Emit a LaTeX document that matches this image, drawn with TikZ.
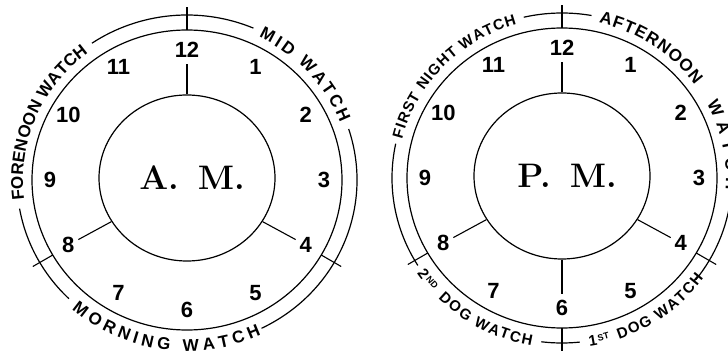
\documentclass[tikz,border=0pt]{standalone}
\usepackage{fontspec}
\newfontfamily\handfont{Liberation Sans}
\usetikzlibrary{decorations.text,shapes.geometric}
\newcommand\watchfont{\handfont\bfseries\fontsize{15}{15}\selectfont}
\newcommand\bigwatchfont{\handfont\bfseries\fontsize{17}{17}\selectfont}
\newcommand\hiwatchfont{\handfont\bfseries\fontsize{9}{9}\selectfont}
\newcommand\hourfont{\handfont\bfseries\fontsize{22}{22}\selectfont}

\begin{document}
\begin{tikzpicture}[x=1pt,y=1pt,
  ring/.style={line width=1.2},
  spoke/.style={line width=1.1},
  hour/.style={font=\hourfont,inner sep=1},
  disc/.style={draw,ellipse,line width=1.2,minimum width=176,minimum height=166,
    font=\bfseries\fontsize{34}{34}\selectfont},
  watch/.style={decorate,decoration={text along path,text align={fit to path},raise=-5.3pt}},
  bigwatch/.style={decorate,decoration={text along path,text align={fit to path},raise=-6pt}},
  watchbit/.style={decorate,decoration={text along path,text align=left,raise=#1}}]
  \fill[white] (0,0) rectangle (728,351);
  \useasboundingbox (0,0) rectangle (728,351);

  % morning
  \begin{scope}[shift={(187,171)}]
    \draw[ring] (0,0) ellipse (155 and 150);
    \foreach \a/\b in {124/67,18/-64,226/190}
      \draw[ring] (\a:170 and 165) arc[start angle=\a,end angle=\b,x radius=170,y radius=165];
    \foreach \a in {90,210,-30}
      \draw[spoke] (\a:155 and 150) -- (\a:178 and 173);
    \path[bigwatch,decoration={text={|\bigwatchfont|MID WATCH}}]
      (64:170 and 165) arc[start angle=64,end angle=21,x radius=170,y radius=165];
    \path[bigwatch,decoration={text={|\bigwatchfont|FORENOON WATCH}}]
      (187:170 and 165) arc[start angle=187,end angle=127,x radius=170,y radius=165];
    \path[bigwatch,decoration={text={|\bigwatchfont|MORNING WATCH}}]
      (229:170 and 165) arc[start angle=229,end angle=295,x radius=170,y radius=165];
    \foreach \h in {1,...,12}
      \node[hour] (am\h) at ({90-30*\h}:137 and 130) {\h};
    \node[disc] (amdisc) at (0,2) {\raisebox{-4pt}{\hspace{10pt}A.\hspace{19pt}M.}};
    \draw[spoke,shorten >=5] (amdisc.north) -- (am12);
    \draw[spoke,shorten >=3] (amdisc.210) -- (am8);
    \draw[spoke,shorten >=3] (amdisc.-30) -- (am4);
  \end{scope}

  % evening
  \begin{scope}[shift={(562,173)}]
    \draw[ring] (0,0) ellipse (155 and 150);
    \foreach \a/\b in {103/80,-7/-38,-84/-97,212/168}
      \draw[ring] (\a:170 and 165) arc[start angle=\a,end angle=\b,x radius=170,y radius=165];
    \foreach \a in {90,210,-30,-90}
      \draw[spoke] (\a:155 and 150) -- (\a:178 and 173);
    \path[watch,decoration={text={|\watchfont|FIRST NIGHT WATCH}}]
      (166:170 and 165) arc[start angle=166,end angle=106,x radius=170,y radius=165];
    \path[bigwatch,decoration={text={|\bigwatchfont|AFTERNOON}}]
      (77:170 and 165) arc[start angle=77,end angle=36,x radius=170,y radius=165];
    \path[bigwatch,decoration={text={|\bigwatchfont|WATCH}}]
      (28:170 and 165) arc[start angle=28,end angle=-4,x radius=170,y radius=165];
    % dog watches, with raised ordinals
    \path[watchbit=-5.3pt,decoration={text={|\watchfont|2}}]
      (214:170 and 165) arc[start angle=214,end angle=222,x radius=170,y radius=165];
    \path[watchbit=-2pt,decoration={text={|\hiwatchfont|ND}}]
      (217.5:170 and 165) arc[start angle=217.5,end angle=228,x radius=170,y radius=165];
    \path[watch,decoration={text={|\watchfont|DOG WATCH}}]
      (225:170 and 165) arc[start angle=225,end angle=260,x radius=170,y radius=165];
    \path[watchbit=-5.3pt,decoration={text={|\watchfont|1}}]
      (279:170 and 165) arc[start angle=279,end angle=287,x radius=170,y radius=165];
    \path[watchbit=-2pt,decoration={text={|\hiwatchfont|ST}}]
      (282.2:170 and 165) arc[start angle=282.2,end angle=292,x radius=170,y radius=165];
    \path[watch,decoration={text={|\watchfont|DOG WATCH}}]
      (289:170 and 165) arc[start angle=289,end angle=324,x radius=170,y radius=165];
    \foreach \h in {1,...,12}
      \node[hour] (pm\h) at ({90-30*\h}:137 and 130) {\h};
    \node[disc] (pmdisc) at (0,2) {\raisebox{-4pt}{\hspace{10pt}P.\hspace{19pt}M.}};
    \draw[spoke,shorten >=5] (pmdisc.north) -- (pm12);
    \draw[spoke,shorten >=3] (pmdisc.210) -- (pm8);
    \draw[spoke,shorten >=3] (pmdisc.-30) -- (pm4);
    \draw[spoke,shorten >=5] (pmdisc.south) -- (pm6);
  \end{scope}
\end{tikzpicture}
\end{document}
